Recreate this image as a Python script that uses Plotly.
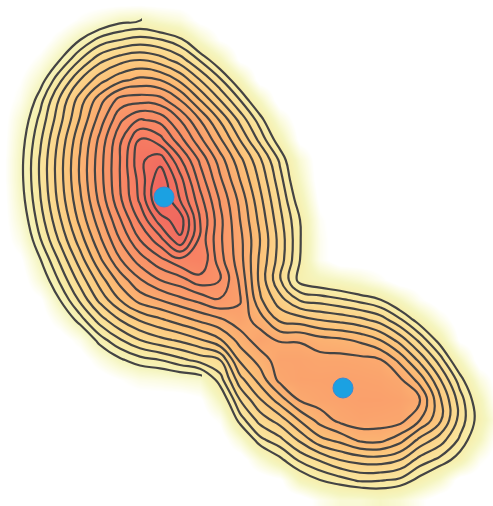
import plotly.graph_objects as go

# Grid positions of the level table below (picture pixels)
grid_x = list(range(0, 520, 20))
grid_y = list(range(0, 520, 20))

# Level values estimated by counting contour lines in the reference, one row per grid_y
level_rows = [
    [-3]*26,
    [-3,-3,-3,-3,-2,-1.2,-.4,-.1,-.8,-1.3,-2.6]+[-3]*15,
    [-3,-3,-3,-1.5,0,1.4,2,2.4,2.1,1.3,-.6,-2.3]+[-3]*14,
    [-3,-3,-1.8,0,2,3.7,4.6,5,4.5,3.5,1.9,0,-2.5]+[-3]*13,
    [-3,-2.3,-.6,1.8,4,5.6,6.7,7.3,7,5.8,4,2.2,0,-2.8]+[-3]*12,
    [-3,-1.8,.6,3.2,5.5,7.6,9.4,9.6,9.4,8,6,4,2,-.4]+[-3]*12,
    [-3,-1,1.3,3.7,6.1,8.5,10.8,12.1,11.7,10,8,5.9,3.7,1.5,-1.2]+[-3]*11,
    [-3,-.6,1.8,4.3,6.8,9.3,11.8,14.1,13.4,11.4,9.3,7.2,5,2.7,.3,-2.6]+[-3]*10,
    [-2.9,-.4,2.1,4.6,7.1,9.6,12,14.8,15.6,13.2,10.8,8.5,6.3,4.2,1.8,-1]+[-3]*10,
    [-2.9,-.4,2.1,4.6,7.1,9.6,12,14.4,16.8,14.4,11.6,9.2,7,4.8,2.4,-.4]+[-3]*10,
    [-3,-.6,1.9,4.4,6.8,9.3,11.8,14.2,17.2,15,12.4,9.9,7.7,5.3,2.9,.3,-2.6]+[-3]*9,
    [-3,-1,1.5,3.9,6.3,8.6,10.9,13.2,15.5,16.6,13,10.3,8,5.7,3.3,1,-2]+[-3]*9,
    [-3,-1.6,.9,3.2,5.5,7.8,10,12,13.6,15.8,12.7,10.2,8.3,6,3.6,1.1,-1.8]+[-3]*9,
    [-3,-2.5,-.1,2.2,4.5,6.8,8.9,10.5,11.7,12.7,13,10.4,8.4,5.8,3.5,1,-1.8]+[-3]*9,
    [-3,-3,-1,1.2,3.4,5.5,7.4,8.9,10,10.6,11.6,11,8.8,5.7,3.1,.6,0,-.4,-1,-1.9]+[-3]*6,
    [-3,-3,-2.5,0,2.2,4.3,6,7.4,8,8.7,9.3,9.9,9.1,6.2,4.4,2.9,2.6,2.2,1.7,1.1,-.3,-2]+[-3]*4,
    [-3,-3,-3,-1.5,.5,2.5,4,5.1,5.8,6.5,7.2,7.8,8.6,7.5,5.8,5.5,5,4.7,4.3,3.6,2.2,.4,-1.5]+[-3]*3,
    [-3,-3,-3,-3,-1.7,.5,1.9,3,3.7,4.2,4.9,5.9,7.4,8.6,7.9,7.9,7.4,7.2,6.8,6,4.6,2.7,.5,-2.5,-3,-3],
    [-3,-3,-3,-3,-3,-1.5,-.2,.6,1,1.7,2.4,3,6.2,7.4,8.6,8.6,8.4,8.4,8.3,8.1,6.7,4.7,2.5,-.3,-3,-3],
    [-3,-3,-3,-3,-3,-3,-2.3,-1.6,-1.4,-1.1,-.8,1.5,4.6,6.4,8.3,8.7,8.7,8.8,8.7,8.6,8.2,6.6,4.1,1.5,-1.3,-3],
    [-3]*10+[-2.5,-.2,3,4.9,6.5,8.1,8.5,8.7,8.9,8.9,8.7,8,5.2,2.5,0,-3],
    [-3]*11+[-2,1.5,3.4,4.5,6.1,7.4,8.3,8.6,8.5,8.4,7,5.2,2.6,.4,-2],
    [-3]*12+[-1,1.7,2.7,4.2,5.7,6.3,7.2,7.3,6.4,4.7,3.5,1.8,-.3,-3],
    [-3]*13+[-1,.7,2.2,3.1,4,4.4,4.5,4,2.6,1.7,.4,-2,-3],
    [-3]*14+[-2.5,0,1,1.6,2.2,2.1,1.8,.6,-.7,-2.8,-3,-3],
    [-3]*16+[-1.8,-1,-1,-.5,-1,-2,-3,-3,-3,-3],
]

# The two blue centres
center_x = [164, 343]
center_y = [197, 388]

# The outermost line is only drawn along the left and lower-left of the shape
open_line_rows = [
    [v if (x <= 140 or (y >= 300 and x <= 200)) else None for x, v in zip(grid_x, row)]
    for y, row in zip(grid_y, level_rows)
]

zlo, zhi = -3, 17.2
def stop(z):
    return (z - zlo) / (zhi - zlo)

colorscale = [
    [stop(-3), "#ffffff"],
    [stop(-2.3), "#ffffff"],
    [stop(-1.3), "#fbfbdf"],
    [stop(-.3), "#f5f5c0"],
    [stop(1), "#f7eeaa"],
    [stop(3), "#fbdd93"],
    [stop(6), "#fcc077"],
    [stop(9), "#fa9f6b"],
    [stop(13), "#f88263"],
    [stop(17.2), "#ee625e"],
]

line_style = dict(color="#444444", width=2.2, smoothing=1.3)

fig = go.Figure()
fig.add_trace(go.Heatmap(
    x=grid_x, y=grid_y, z=level_rows, zmin=zlo, zmax=zhi, zsmooth="best",
    colorscale=colorscale, showscale=False, hoverinfo="skip",
))
fig.add_trace(go.Contour(
    x=grid_x, y=grid_y, z=level_rows, showscale=False, hoverinfo="skip",
    contours=dict(coloring="none", start=1, end=17, size=1),
    line=line_style,
))
fig.add_trace(go.Contour(
    x=grid_x, y=grid_y, z=open_line_rows, showscale=False, hoverinfo="skip",
    connectgaps=False,
    contours=dict(coloring="none", start=0, end=0, size=1),
    line=line_style,
))
fig.add_trace(go.Scatter(
    x=center_x, y=center_y, mode="markers", hoverinfo="skip",
    marker=dict(size=20, color="#1ba1e2", line=dict(width=1, color="#3f88d0")),
))
fig.update_layout(
    width=493, height=506, margin=dict(l=0, r=0, t=0, b=0),
    paper_bgcolor="white", plot_bgcolor="white", showlegend=False,
    xaxis=dict(range=[0, 493], visible=False, fixedrange=True),
    yaxis=dict(range=[506, 0], visible=False, fixedrange=True),
)
fig.write_html("out.html", config={"displayModeBar": False},
               post_script="document.body.style.margin='0';document.body.style.overflow='hidden';")
